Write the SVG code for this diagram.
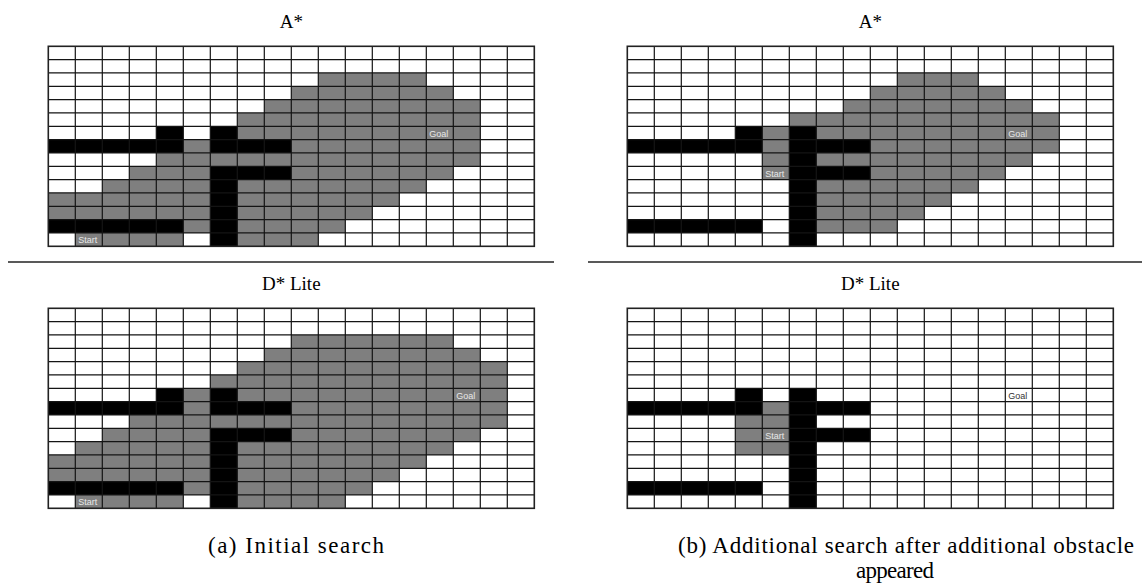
<svg xmlns="http://www.w3.org/2000/svg" xmlns:xlink="http://www.w3.org/1999/xlink" width="1144" height="585" viewBox="0 0 1144 585">
<style>
.g{fill:#7f7f7f}
.b{fill:#000}
.gl{fill:none;stroke:#141414;stroke-width:1.2}
.bd{fill:none;stroke:#222;stroke-width:1.6}
.lbl{font-family:"Liberation Sans",Arial,sans-serif;font-size:9px;fill:#e8e8e8}
.lbld{font-family:"Liberation Sans",Arial,sans-serif;font-size:9px;fill:#333}
.title{font-family:"Liberation Serif","Times New Roman",serif;font-size:19px;fill:#000;text-anchor:middle}
.cap{font-family:"Liberation Serif","Times New Roman",serif;font-size:23px;fill:#000;text-anchor:middle}
.sep{stroke:#222;stroke-width:1.6}
</style>
<defs>
<g id="lines">
<path class="gl" d="M0 13.333H486M0 26.667H486M0 40H486M0 53.333H486M0 66.667H486M0 80H486M0 93.333H486M0 106.667H486M0 120H486M0 133.333H486M0 146.667H486M0 160H486M0 173.333H486M0 186.667H486M27 0V200M54 0V200M81 0V200M108 0V200M135 0V200M162 0V200M189 0V200M216 0V200M243 0V200M270 0V200M297 0V200M324 0V200M351 0V200M378 0V200M405 0V200M432 0V200M459 0V200"/>
<rect class="bd" x="0" y="0" width="486" height="200"/>
</g>
</defs>
<rect width="1144" height="585" fill="#fff"/>

<g id="title-top-left"><text class="title" x="291.3" y="28">A*</text></g>
<g id="title-top-right"><text class="title" x="870.3" y="28">A*</text></g>
<g id="title-bottom-left"><text class="title" x="291.3" y="290">D* Lite</text></g>
<g id="title-bottom-right"><text class="title" x="870.3" y="290">D* Lite</text></g>

<g id="grid-top-left" transform="translate(48.3 46.3)">
<rect width="486" height="200" fill="#fff"/>
<g transform="scale(27 13.3333)">
<rect class="g" x="10" y="2" width="4" height="1"/>
<rect class="g" x="9" y="3" width="6" height="1"/>
<rect class="g" x="8" y="4" width="8" height="1"/>
<rect class="g" x="7" y="5" width="9" height="1"/>
<rect class="g" x="7" y="6" width="9" height="1"/>
<rect class="g" x="5" y="7" width="1" height="1"/>
<rect class="g" x="9" y="7" width="7" height="1"/>
<rect class="g" x="4" y="8" width="12" height="1"/>
<rect class="g" x="3" y="9" width="3" height="1"/>
<rect class="g" x="9" y="9" width="6" height="1"/>
<rect class="g" x="2" y="10" width="4" height="1"/>
<rect class="g" x="7" y="10" width="7" height="1"/>
<rect class="g" x="0" y="11" width="6" height="1"/>
<rect class="g" x="7" y="11" width="6" height="1"/>
<rect class="g" x="0" y="12" width="6" height="1"/>
<rect class="g" x="7" y="12" width="5" height="1"/>
<rect class="g" x="5" y="13" width="1" height="1"/>
<rect class="g" x="7" y="13" width="4" height="1"/>
<rect class="g" x="1" y="14" width="4" height="1"/>
<rect class="g" x="7" y="14" width="3" height="1"/>
<rect class="b" x="4" y="6" width="1" height="1"/>
<rect class="b" x="6" y="6" width="1" height="2"/>
<rect class="b" x="0" y="7" width="5" height="1"/>
<rect class="b" x="6" y="7" width="3" height="1"/>
<rect class="b" x="6" y="9" width="3" height="1"/>
<rect class="b" x="6" y="9" width="1" height="6"/>
<rect class="b" x="0" y="13" width="5" height="1"/>
</g>
<use xlink:href="#lines"/>
<text class="lbl" x="381" y="90.3">Goal</text>
<text class="lbl" x="30" y="197">Start</text>
</g>

<g id="grid-top-right" transform="translate(627.3 46.3)">
<rect width="486" height="200" fill="#fff"/>
<g transform="scale(27 13.3333)">
<rect class="g" x="10" y="2" width="3" height="1"/>
<rect class="g" x="9" y="3" width="5" height="1"/>
<rect class="g" x="8" y="4" width="7" height="1"/>
<rect class="g" x="6" y="5" width="10" height="1"/>
<rect class="g" x="5" y="6" width="1" height="4"/>
<rect class="g" x="7" y="6" width="9" height="1"/>
<rect class="g" x="9" y="7" width="7" height="1"/>
<rect class="g" x="7" y="8" width="8" height="1"/>
<rect class="g" x="9" y="9" width="5" height="1"/>
<rect class="g" x="7" y="10" width="6" height="1"/>
<rect class="g" x="7" y="11" width="5" height="1"/>
<rect class="g" x="7" y="12" width="4" height="1"/>
<rect class="g" x="7" y="13" width="3" height="1"/>
<rect class="b" x="4" y="6" width="1" height="1"/>
<rect class="b" x="6" y="6" width="1" height="9"/>
<rect class="b" x="0" y="7" width="5" height="1"/>
<rect class="b" x="6" y="7" width="3" height="1"/>
<rect class="b" x="6" y="9" width="3" height="1"/>
<rect class="b" x="0" y="13" width="5" height="1"/>
</g>
<use xlink:href="#lines"/>
<text class="lbl" x="381" y="90.3">Goal</text>
<text class="lbl" x="138" y="130.3">Start</text>
</g>

<g id="separators">
<line class="sep" x1="8" y1="262" x2="554" y2="262"/>
<line class="sep" x1="588" y1="262" x2="1142" y2="262"/>
</g>

<g id="grid-bottom-left" transform="translate(48.3 308.3)">
<rect width="486" height="200" fill="#fff"/>
<g transform="scale(27 13.3333)">
<rect class="g" x="9" y="2" width="6" height="1"/>
<rect class="g" x="8" y="3" width="8" height="1"/>
<rect class="g" x="7" y="4" width="10" height="1"/>
<rect class="g" x="6" y="5" width="11" height="1"/>
<rect class="g" x="5" y="6" width="1" height="2"/>
<rect class="g" x="7" y="6" width="10" height="1"/>
<rect class="g" x="9" y="7" width="8" height="1"/>
<rect class="g" x="3" y="8" width="14" height="1"/>
<rect class="g" x="2" y="9" width="4" height="1"/>
<rect class="g" x="9" y="9" width="7" height="1"/>
<rect class="g" x="1" y="10" width="5" height="1"/>
<rect class="g" x="7" y="10" width="8" height="1"/>
<rect class="g" x="0" y="11" width="6" height="1"/>
<rect class="g" x="7" y="11" width="7" height="1"/>
<rect class="g" x="0" y="12" width="6" height="1"/>
<rect class="g" x="7" y="12" width="6" height="1"/>
<rect class="g" x="5" y="13" width="1" height="1"/>
<rect class="g" x="7" y="13" width="5" height="1"/>
<rect class="g" x="1" y="14" width="4" height="1"/>
<rect class="g" x="7" y="14" width="4" height="1"/>
<rect class="b" x="4" y="6" width="1" height="1"/>
<rect class="b" x="6" y="6" width="1" height="2"/>
<rect class="b" x="0" y="7" width="5" height="1"/>
<rect class="b" x="6" y="7" width="3" height="1"/>
<rect class="b" x="6" y="9" width="3" height="1"/>
<rect class="b" x="6" y="9" width="1" height="6"/>
<rect class="b" x="0" y="13" width="5" height="1"/>
</g>
<use xlink:href="#lines"/>
<text class="lbl" x="408" y="90.3">Goal</text>
<text class="lbl" x="30" y="197">Start</text>
</g>

<g id="grid-bottom-right" transform="translate(627.3 308.3)">
<rect width="486" height="200" fill="#fff"/>
<g transform="scale(27 13.3333)">
<rect class="g" x="5" y="7" width="1" height="1"/>
<rect class="g" x="4" y="8" width="2" height="3"/>
<rect class="b" x="4" y="6" width="1" height="1"/>
<rect class="b" x="6" y="6" width="1" height="9"/>
<rect class="b" x="0" y="7" width="5" height="1"/>
<rect class="b" x="6" y="7" width="3" height="1"/>
<rect class="b" x="6" y="9" width="3" height="1"/>
<rect class="b" x="0" y="13" width="5" height="1"/>
</g>
<use xlink:href="#lines"/>
<text class="lbld" x="381" y="90.3">Goal</text>
<text class="lbl" x="138" y="130.3">Start</text>
</g>

<g id="captions">
<text class="cap" x="296" y="553" textLength="176">(a) Initial search</text>
<text class="cap" x="906" y="553" textLength="456">(b) Additional search after additional obstacle</text>
<text class="cap" x="895" y="578" textLength="78">appeared</text>
</g>
</svg>
